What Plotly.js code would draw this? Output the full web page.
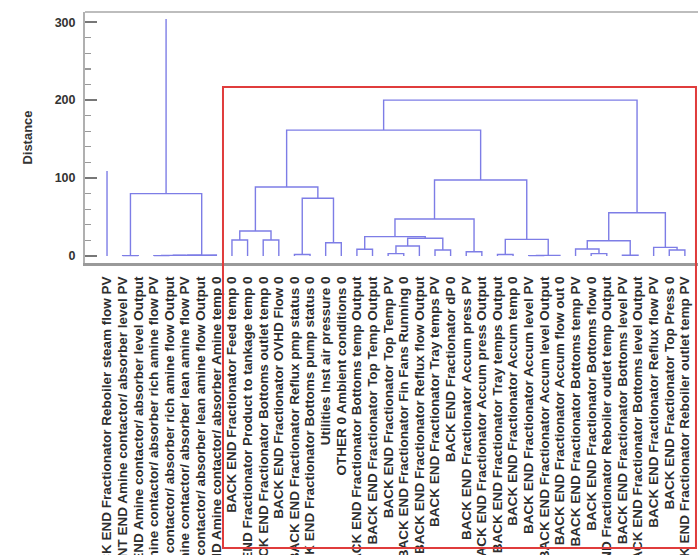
<!DOCTYPE html>
<html>
<head>
<meta charset="utf-8">
<script src="https://cdn.plot.ly/plotly-3.0.1.min.js"></script>
<style>
html,body{margin:0;padding:0;background:#ffffff;}
#chart{width:698px;height:555px;}
</style>
</head>
<body>
<div id="chart"></div>
<script>
// ---- Leaf labels (left to right) ----
const leafLabels = [
  "BACK END Fractionator Reboiler steam flow PV",
  "FRONT END Amine contactor/ absorber level PV",
  "FRONT END Amine contactor/ absorber level Output",
  "FRONT END Amine contactor/ absorber rich amine flow PV",
  "FRONT END Amine contactor/ absorber rich amine flow Output",
  "FRONT END Amine contactor/ absorber lean amine flow PV",
  "FRONT END Amine contactor/ absorber lean amine flow Output",
  "FRONT END Amine contactor/ absorber Amine temp 0",
  "BACK END Fractionator Feed temp 0",
  "BACK END Fractionator Product to tankage temp 0",
  "BACK END Fractionator Bottoms outlet temp 0",
  "BACK END Fractionator OVHD Flow 0",
  "BACK END Fractionator Reflux pmp status 0",
  "BACK END Fractionator Bottoms pump status 0",
  "Utilities Inst air pressure 0",
  "OTHER 0 Ambient conditions 0",
  "BACK END Fractionator Bottoms temp Output",
  "BACK END Fractionator Top Temp Output",
  "BACK END Fractionator Top Temp PV",
  "BACK END Fractionator Fin Fans Running 0",
  "BACK END Fractionator Reflux flow Output",
  "BACK END Fractionator Tray temps PV",
  "BACK END Fractionator dP 0",
  "BACK END Fractionator Accum press PV",
  "BACK END Fractionator Accum press Output",
  "BACK END Fractionator Tray temps Output",
  "BACK END Fractionator Accum temp 0",
  "BACK END Fractionator Accum level PV",
  "BACK END Fractionator Accum level Output",
  "BACK END Fractionator Accum flow out 0",
  "BACK END Fractionator Bottoms temp PV",
  "BACK END Fractionator Bottoms flow 0",
  "BACK END Fractionator Reboiler outlet temp Output",
  "BACK END Fractionator Bottoms level PV",
  "BACK END Fractionator Bottoms level Output",
  "BACK END Fractionator Reflux flow PV",
  "BACK END Fractionator Top Press 0",
  "BACK END Fractionator Reboiler outlet temp PV"
];

// ---- Merges: children are leaf indices or "mK" (merge K); height = distance ----
const mergeLeft   = [1,   3,    "m1", "m2", "m3", "m0", 8,    10,   "m6", 12, 14, "m9",  "m8",  16,  18, "m14", 21,  "m15", "m13", 23,  "m18", 25, 27,  "m22", "m21", "m20", "m12", 31, 30,   33, "m28", 36,  35,    "m30", "m26"];
const mergeRight  = [2,   4,    5,    6,    7,    "m4", 9,    11,   "m7", 13, 15, "m10", "m11", 17,  19, 20,    22,  "m16", "m17", 24,  "m19", 26, 28,  29,    "m23", "m24", "m25", 32, "m27", 34, "m29", 37,  "m31", "m32", "m33"];
const mergeHeight = [0.5, 0.5,  0.8,  1.0,  1.2,  80,   20.5, 20.5, 32,   2,  17, 74,    88.5,  8.6, 3,  12.8,  7.7, 22.7,  24.8,  5.5, 47.4,  2,  0.5, 0.8,   21.3,  97.4,  161.5, 3,  9,    1,  19.6,  7.7, 11,    55.5,  200];

// ---- Stems drawn above cluster tops ----
const stemNode = [0, "m5"];
const stemTop  = [109, 304];

const yTickValues = [0, 100, 200, 300];

// ---- Build line geometry from the tree ----
const cache = {};
function pos(ref) {
  if (typeof ref === "number") return {x: ref, h: 0};
  if (cache[ref]) return cache[ref];
  const k = parseInt(ref.slice(1), 10);
  const a = pos(mergeLeft[k]), b = pos(mergeRight[k]);
  const p = {x: (a.x + b.x) / 2, h: mergeHeight[k], xl: a.x, hl: a.h, xr: b.x, hr: b.h};
  cache[ref] = p;
  return p;
}
const xs = [], ys = [];
for (let k = 0; k < mergeHeight.length; k++) {
  const p = pos("m" + k);
  xs.push(p.xl, p.xl, p.xr, p.xr, null);
  ys.push(p.hl, p.h, p.h, p.hr, null);
}
for (let s = 0; s < stemNode.length; s++) {
  const p = pos(stemNode[s]);
  xs.push(p.x, p.x, null);
  ys.push(p.h, stemTop[s], null);
}

const lineColor = "rgb(125,125,230)";
const trace = {
  type: "scatter", mode: "lines", x: xs, y: ys,
  line: {color: lineColor, width: 1.4},
  hoverinfo: "skip", connectgaps: false
};

const tickIdx = leafLabels.map((_, i) => i);
const n = leafLabels.length;

const layout = {
  width: 698, height: 555,
  margin: {l: 85, r: 0, t: 12, b: 292, pad: 0},
  paper_bgcolor: "#ffffff", plot_bgcolor: "#ffffff",
  showlegend: false,
  font: {family: "Liberation Sans, Arial, sans-serif", color: "#333"},
  xaxis: {
    range: [-1.41, n - 1 + 0.84],
    tickmode: "array", tickvals: tickIdx, ticktext: leafLabels,
    tickangle: -90, ticks: "",
    tickfont: {size: 13.5, weight: 700, color: "#2e2e2e"},
    ticklabelstandoff: 5,
    showgrid: false, zeroline: false,
    showline: true, linecolor: "#9a9a9a", linewidth: 3
  },
  yaxis: {
    range: [-9, 313],
    tickmode: "array", tickvals: yTickValues,
    ticks: "inside", ticklen: 12, tickwidth: 1.5, tickcolor: "#777",
    minor: {dtick: 20, tick0: 0, ticks: "inside", ticklen: 6, tickwidth: 1.2, tickcolor: "#999"},
    tickfont: {size: 12.5, weight: 700, color: "#333"},
    ticklabelstandoff: 5,
    showgrid: false, zeroline: false,
    showline: true, linecolor: "#b0b0b0", linewidth: 2,
    title: {text: "Distance", font: {size: 13, weight: 700, color: "#333"}, standoff: 19}
  },
  shapes: [
    {type: "line", xref: "paper", yref: "paper", x0: 0, x1: 1, y0: 1, y1: 1,
     line: {color: "#bdbdbd", width: 2}},
    {type: "rect", xref: "paper", yref: "paper", x0: 0.2251, x1: 0.9967, y0: 0.7012, y1: -1.1355,
     line: {color: "#e03c3c", width: 2}, fillcolor: "rgba(0,0,0,0)", layer: "above"}
  ]
};

Plotly.newPlot("chart", [trace], layout, {staticPlot: true, displayModeBar: false});
</script>
</body>
</html>
